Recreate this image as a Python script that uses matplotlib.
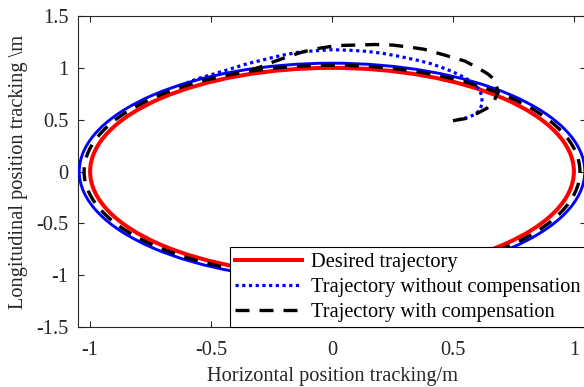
import matplotlib
matplotlib.use("Agg")
import matplotlib.pyplot as plt
from matplotlib.patches import Ellipse
from matplotlib.lines import Line2D

plt.rcParams['font.family'] = ['Liberation Serif', 'DejaVu Serif']
plt.rcParams['axes.unicode_minus'] = False

# Steady-state orbit radii (x radius, y radius)
desired_radius = (1.0, 1.0)
uncomp_radius = (1.045, 1.045)
comp_radius = (1.025, 1.025)

# Start-up transient of the trajectory without compensation
uncomp_x = [0.52, 0.56, 0.59, 0.61, 0.62, 0.62, 0.61, 0.59, 0.56, 0.52, 0.47, 0.41,
            0.35, 0.28, 0.21, 0.14, 0.07, 0.00, -0.07, -0.14, -0.21, -0.28, -0.35,
            -0.42, -0.49, -0.55, -0.60]
uncomp_y = [0.50, 0.52, 0.55, 0.59, 0.65, 0.72, 0.79, 0.84, 0.89, 0.94, 0.99, 1.04,
            1.075, 1.11, 1.14, 1.16, 1.17, 1.175, 1.165, 1.15, 1.12, 1.08, 1.04,
            0.99, 0.94, 0.90, 0.856]

# Start-up transient of the trajectory with compensation
comp_x = [0.50, 0.55, 0.60, 0.64, 0.67, 0.685, 0.68, 0.665, 0.645, 0.61, 0.55, 0.50,
          0.44, 0.38, 0.32, 0.25, 0.18, 0.10, 0.02, -0.05, -0.12, -0.18, -0.24,
          -0.30, -0.36]
comp_y = [0.49, 0.51, 0.56, 0.61, 0.68, 0.76, 0.85, 0.90, 0.94, 0.99, 1.065, 1.10,
          1.14, 1.18, 1.20, 1.22, 1.225, 1.22, 1.215, 1.19, 1.155, 1.11, 1.06,
          1.005, 0.962]

x_ticks = [-1, -0.5, 0, 0.5, 1]
y_ticks = [-1.5, -1, -0.5, 0, 0.5, 1, 1.5]
labels = ['Desired trajectory', 'Trajectory without compensation',
          'Trajectory with compensation']

FS = 14.7
red = '#ff0000'
blue = '#0000ff'
dash = (0, (4.2, 3.0))
dot = (0, (1.0, 1.1))

fig = plt.figure(figsize=(5.84, 3.87), dpi=100)
ax = fig.add_axes([0.1336, 0.155, 0.8698, 0.8036])

ax.add_patch(Ellipse((0, 0), 2 * desired_radius[0], 2 * desired_radius[1],
                     fill=False, edgecolor=red, lw=2.9, zorder=2))
ax.add_patch(Ellipse((0, 0), 2 * uncomp_radius[0], 2 * uncomp_radius[1],
                     fill=False, edgecolor=blue, lw=2.1, zorder=3))
ax.plot(uncomp_x, uncomp_y, color=blue, lw=2.3, linestyle=dot, zorder=3)
ax.add_patch(Ellipse((0, 0), 2 * comp_radius[0], 2 * comp_radius[1],
                     fill=False, edgecolor='black', lw=2.4, linestyle=dash, zorder=4))
ax.plot(comp_x, comp_y, color='black', lw=2.4, linestyle=dash, zorder=4)

ax.set_xlim(-1.05, 1.05)
ax.set_ylim(-1.5, 1.5)
ax.set_xticks(x_ticks)
ax.set_xticklabels([f'{v:g}' for v in x_ticks])
ax.set_yticks(y_ticks)
ax.set_yticklabels([f'{v:g}' for v in y_ticks])
ax.tick_params(direction='in', length=4, width=0.8, top=True, right=True,
               labelsize=FS, colors='#262626', pad=7)
ax.tick_params(axis='x', pad=10)
for s in ax.spines.values():
    s.set_color('#262626')
    s.set_linewidth(0.8)

ax.set_xlabel('Horizontal position tracking/m', fontsize=FS, color='#262626', labelpad=5)
ax.set_ylabel('Longitudinal position tracking \\m', fontsize=FS, color='#262626', labelpad=6)

handles = [Line2D([], [], color=red, lw=2.9),
           Line2D([], [], color=blue, lw=2.3, linestyle=dot),
           Line2D([], [], color='black', lw=2.4, linestyle=dash)]
leg = ax.legend(handles, labels, loc='lower right', bbox_to_anchor=(1, 0),
                borderaxespad=0, fontsize=FS, frameon=True, fancybox=False,
                edgecolor='black', framealpha=1, borderpad=0.25,
                handlelength=3.3, handletextpad=0.45, labelspacing=0.28)
leg.get_frame().set_linewidth(0.8)
leg.set_zorder(10)

fig.savefig('out.png', dpi=100)
